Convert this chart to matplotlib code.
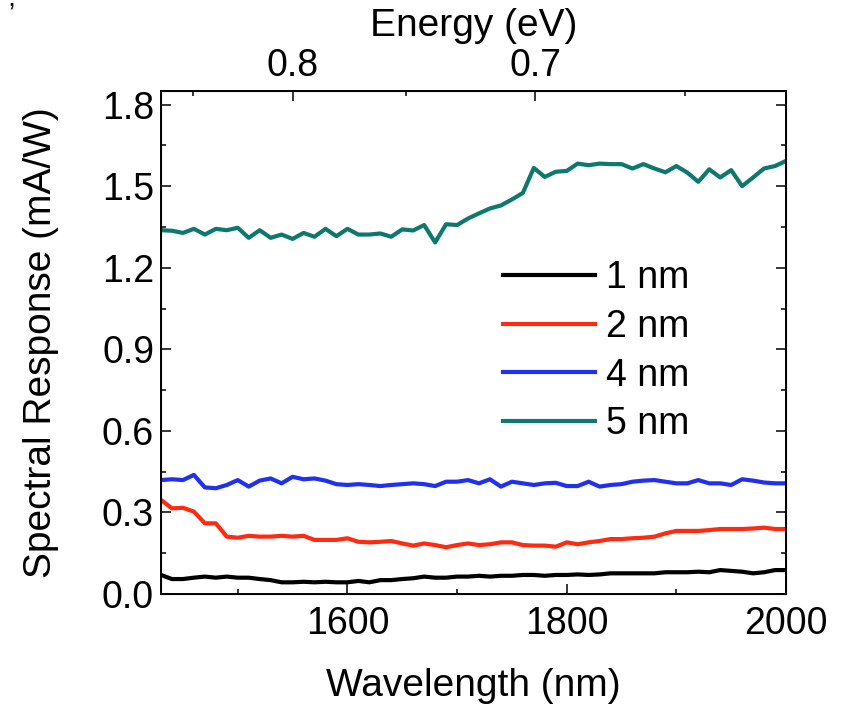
import numpy as np
import matplotlib
matplotlib.use("Agg")
import matplotlib.pyplot as plt
from matplotlib.ticker import MultipleLocator, FixedLocator

# ============================================
# DATA
# ============================================

wavelength = np.arange(1430, 2001, 10)

resp_1nm = [
    0.070, 0.055, 0.055, 0.060, 0.064, 0.060, 0.064, 0.060, 0.060, 0.055,
    0.051, 0.043, 0.043, 0.045, 0.043, 0.045, 0.043, 0.043, 0.048, 0.043,
    0.051, 0.051, 0.055, 0.058, 0.064, 0.060, 0.060, 0.064, 0.064, 0.067,
    0.064, 0.067, 0.067, 0.070, 0.070, 0.067, 0.070, 0.070, 0.072, 0.070,
    0.072, 0.076, 0.076, 0.076, 0.076, 0.076, 0.080, 0.080, 0.080, 0.082,
    0.080, 0.088, 0.085, 0.082, 0.076, 0.080, 0.088, 0.088,
]

resp_2nm = [
    0.346, 0.315, 0.317, 0.303, 0.260, 0.260, 0.211, 0.207, 0.214, 0.211,
    0.211, 0.214, 0.211, 0.214, 0.199, 0.199, 0.199, 0.205, 0.192, 0.190,
    0.192, 0.195, 0.186, 0.178, 0.186, 0.180, 0.172, 0.180, 0.186, 0.180,
    0.183, 0.190, 0.190, 0.180, 0.178, 0.178, 0.174, 0.190, 0.183, 0.190,
    0.195, 0.202, 0.202, 0.205, 0.207, 0.211, 0.223, 0.232, 0.232, 0.232,
    0.235, 0.239, 0.239, 0.239, 0.241, 0.244, 0.239, 0.239,
]

resp_4nm = [
    0.419, 0.422, 0.419, 0.438, 0.392, 0.389, 0.401, 0.419, 0.395, 0.417,
    0.425, 0.407, 0.431, 0.422, 0.425, 0.417, 0.404, 0.401, 0.404, 0.401,
    0.397, 0.401, 0.404, 0.407, 0.404, 0.397, 0.413, 0.413, 0.419, 0.407,
    0.422, 0.395, 0.413, 0.407, 0.401, 0.407, 0.409, 0.397, 0.397, 0.413,
    0.395, 0.401, 0.404, 0.413, 0.417, 0.419, 0.413, 0.407, 0.407, 0.419,
    0.407, 0.407, 0.401, 0.422, 0.417, 0.410, 0.407, 0.407,
]

resp_5nm = [
    1.338, 1.336, 1.328, 1.343, 1.322, 1.343, 1.338, 1.347, 1.310, 1.338,
    1.310, 1.322, 1.306, 1.328, 1.314, 1.343, 1.316, 1.343, 1.322, 1.322,
    1.326, 1.314, 1.341, 1.337, 1.357, 1.293, 1.360, 1.357, 1.381, 1.400,
    1.418, 1.429, 1.451, 1.475, 1.567, 1.534, 1.553, 1.556, 1.583, 1.577,
    1.583, 1.581, 1.581, 1.565, 1.581, 1.565, 1.551, 1.574, 1.550, 1.516,
    1.562, 1.532, 1.559, 1.500, 1.532, 1.565, 1.574, 1.593,
]

series_labels = ["1 nm", "2 nm", "4 nm", "5 nm"]
series_colors = ["#000000", "#ff2a10", "#1f30f0", "#0e786e"]

energy_major = [0.8, 0.7]
energy_minor = [0.85, 0.75, 0.65]

# ============================================
# PLOT
# ============================================

plt.rcParams["font.family"] = ["Liberation Sans", "DejaVu Sans"]

fig = plt.figure(figsize=(8.44, 7.05), dpi=100)
ax = fig.add_axes([161 / 844, 1 - 594 / 705, 625 / 844, 503 / 705])

for vals, lab, col in zip([resp_1nm, resp_2nm, resp_4nm, resp_5nm],
                          series_labels, series_colors):
    ax.plot(wavelength, vals, color=col, lw=3.0, label=lab)

ax.set_xlim(1430, 2000)
ax.set_ylim(0, 1.85)

ax.xaxis.set_major_locator(FixedLocator([1600, 1800, 2000]))
ax.xaxis.set_minor_locator(FixedLocator([1500, 1700, 1900]))
ax.yaxis.set_major_locator(MultipleLocator(0.3))
ax.yaxis.set_minor_locator(MultipleLocator(0.15))
ax.yaxis.set_major_formatter(matplotlib.ticker.FormatStrFormatter("%.1f"))

ax.tick_params(which="both", direction="in", width=1.1, labelsize=27,
               top=False, right=True)
ax.tick_params(axis="x", pad=9)
ax.tick_params(axis="y", pad=5)
ax.tick_params(which="major", length=7)
ax.tick_params(which="minor", length=3.6)
for sp in ax.spines.values():
    sp.set_linewidth(1.4)

ax.set_xlabel("Wavelength (nm)", fontsize=28, labelpad=18)
ax.set_ylabel("Spectral Response (mA/W)", fontsize=28)
ax.yaxis.set_label_coords(-0.163, 0.5)

# top energy axis (E = 1240 / wavelength)
ax2 = ax.twiny()
ax2.set_xlim(ax.get_xlim())
ax2.set_xticks([1240 / e for e in energy_major])
ax2.set_xticklabels([f"{e:.1f}" for e in energy_major])
ax2.set_xticks([1240 / e for e in energy_minor], minor=True)
ax2.tick_params(which="both", direction="in", width=1.1, labelsize=27, pad=5)
ax2.tick_params(which="major", length=7)
ax2.tick_params(which="minor", length=3.6)
ax2.set_xlabel("Energy (eV)", fontsize=28, labelpad=9)

leg = ax.legend(loc="upper left", bbox_to_anchor=(503 / 844, 1 - 260 / 705),
                bbox_transform=fig.transFigure, frameon=False, fontsize=27,
                handlelength=2.45, handletextpad=0.3, labelspacing=0.34,
                borderpad=0, borderaxespad=0)

fig.text(8 / 844, 1 - 22 / 705, "\u2019", fontsize=20)

fig.savefig("out.png", dpi=100)
